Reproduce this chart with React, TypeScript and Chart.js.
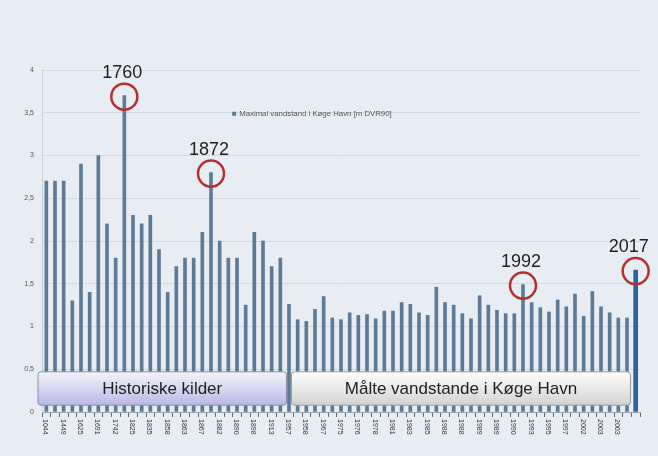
import React, { useEffect, useRef } from "react";
import { Chart, registerables } from "chart.js";

Chart.register(...registerables);

const categories = [
  "1044", "1300", "1449", "1532", "1625", "1634", "1691", "1718", "1742", "1760",
  "1825", "1829", "1835", "1836", "1858", "1862", "1863", "1864", "1867", "1872",
  "1882", "1883", "1890", "1895", "1898", "1904", "1913", "1921", "1957", "1957",
  "1958", "1962", "1967", "1973", "1975", "1975", "1976", "1977", "1978", "1979",
  "1981", "1982", "1983", "1984", "1985", "1986", "1988", "1988", "1988", "1989",
  "1989", "1989", "1989", "1990", "1990", "1992", "1993", "1994", "1995", "1996",
  "1997", "1999", "2002", "2002", "2003", "2003", "2003", "2006", "2017",
];

const maxLevel = [
  2.7, 2.7, 2.7, 1.3, 2.9, 1.4, 3.0, 2.2, 1.8, 3.7,
  2.3, 2.2, 2.3, 1.9, 1.4, 1.7, 1.8, 1.8, 2.1, 2.8,
  2.0, 1.8, 1.8, 1.25, 2.1, 2.0, 1.7, 1.8, 1.26, 1.08,
  1.06, 1.2, 1.35, 1.1, 1.08, 1.16, 1.13, 1.14, 1.09, 1.18,
  1.18, 1.28, 1.26, 1.16, 1.13, 1.46, 1.28, 1.25, 1.15, 1.09,
  1.36, 1.25, 1.19, 1.15, 1.15, 1.49, 1.28, 1.22, 1.17, 1.31,
  1.23, 1.38, 1.12, 1.41, 1.23, 1.16, 1.1, 1.1, 1.66,
];

const yTickLabels = ["0", "0,5", "1", "1,5", "2", "2,5", "3", "3,5", "4"];
const highlightYears = ["1760", "1872", "1992", "2017"];
const legendLabel = "Maximal vandstand i Køge Havn [m DVR90]";
const periodLabels = ["Historiske kilder", "Målte vandstande i Køge Havn"];
const firstMeasuredIndex = 28; // the 1957 bar separates the two periods

const BAR_COLOR = "#5d7a96";
const LAST_COLOR = "#2c6597";
const BG = "#e8edf3";

export default function App() {
  const ref = useRef<HTMLCanvasElement>(null);

  useEffect(() => {
    document.body.style.margin = "0";
    document.body.style.background = BG;
    const canvas = ref.current;
    if (!canvas) return;
    const lastIndex = categories.length - 1;
    const mainData = maxLevel.map((v, i) => (i === lastIndex ? null : v));
    const lastData = maxLevel.map((v, i) => (i === lastIndex ? v : null));

    const overlay = {
      id: "overlay",
      beforeDraw(chart: any) {
        const ctx = chart.ctx;
        ctx.save();
        ctx.fillStyle = BG;
        ctx.fillRect(0, 0, chart.width, chart.height);
        ctx.restore();
      },
      afterDatasetsDraw(chart: any) {
        const ctx = chart.ctx;
        const xs = chart.scales.x;
        const ys = chart.scales.y;
        const area = chart.chartArea;

        // period boxes
        const top = ys.getPixelForValue(0.47);
        const bot = ys.getPixelForValue(0.08);
        const divX = xs.getPixelForValue(firstMeasuredIndex);
        const boxes = [
          { l: area.left - 4, r: divX - 2.5, c1: "#f4f4fc", c2: "#b9b9e4", stroke: "#8c8cab", label: periodLabels[0] },
          { l: divX + 2.5, r: xs.getPixelForValue(lastIndex - 1) + 3.5, c1: "#ffffff", c2: "#d2d2d2", stroke: "#9a9a9a", label: periodLabels[1] },
        ];
        boxes.forEach((b) => {
          ctx.save();
          const g = ctx.createLinearGradient(0, top, 0, bot);
          g.addColorStop(0, b.c1);
          g.addColorStop(1, b.c2);
          ctx.fillStyle = g;
          ctx.strokeStyle = b.stroke;
          ctx.lineWidth = 1;
          ctx.beginPath();
          if ((ctx as any).roundRect) (ctx as any).roundRect(b.l, top, b.r - b.l, bot - top, 3);
          else ctx.rect(b.l, top, b.r - b.l, bot - top);
          ctx.fill();
          ctx.stroke();
          ctx.fillStyle = "#222";
          ctx.font = "17px 'Liberation Sans', Arial, sans-serif";
          ctx.textAlign = "center";
          ctx.textBaseline = "middle";
          ctx.fillText(b.label, (b.l + b.r) / 2, (top + bot) / 2 + 1);
          ctx.restore();
        });

        // x labels rotated (reading top to bottom)
        ctx.save();
        ctx.fillStyle = "#333";
        ctx.font = "7px 'Liberation Sans Narrow', 'Liberation Sans', sans-serif";
        ctx.textAlign = "left";
        ctx.textBaseline = "middle";
        categories.forEach((c, i) => {
          if (i % 2 !== 0 || i === lastIndex) return;
          const px = xs.getPixelForValue(i);
          ctx.save();
          ctx.translate(px - 1, area.bottom + 7);
          ctx.rotate(Math.PI / 2);
          ctx.fillText(c, 0, 0);
          ctx.restore();
        });
        ctx.restore();

        // legend
        ctx.save();
        const lx = area.left + (area.right - area.left) * 0.318;
        const ly = ys.getPixelForValue(3.5) + 1;
        ctx.fillStyle = BAR_COLOR;
        ctx.fillRect(lx, ly - 2, 4, 4);
        ctx.fillStyle = "#555";
        ctx.font = "7.8px 'Liberation Sans', sans-serif";
        ctx.textAlign = "left";
        ctx.textBaseline = "middle";
        ctx.fillText(legendLabel, lx + 7, ly);
        ctx.restore();

        // highlighted years
        highlightYears.forEach((yr) => {
          const i = categories.indexOf(yr);
          if (i < 0) return;
          const cx = xs.getPixelForValue(i);
          const cy = ys.getPixelForValue(maxLevel[i]);
          ctx.save();
          ctx.strokeStyle = "#b3302f";
          ctx.lineWidth = 2.5;
          ctx.beginPath();
          ctx.arc(cx, cy + 1, 13, 0, Math.PI * 2);
          ctx.stroke();
          ctx.fillStyle = "#222";
          ctx.font = "18px 'Liberation Sans', Arial, sans-serif";
          ctx.textAlign = "center";
          ctx.textBaseline = "bottom";
          const dx = i === lastIndex ? -7 : -2;
          ctx.fillText(yr, cx + dx, cy - 14);
          ctx.restore();
        });
      },
    };

    const chart = new Chart(canvas, {
      type: "bar",
      data: {
        labels: categories,
        datasets: [
          {
            label: legendLabel,
            data: mainData,
            backgroundColor: BAR_COLOR,
            barThickness: 3,
            grouped: false,
          } as any,
          {
            label: legendLabel,
            data: lastData,
            backgroundColor: LAST_COLOR,
            barThickness: 4,
            grouped: false,
          } as any,
        ],
      },
      options: {
        responsive: false,
        animation: false,
        layout: { padding: { top: 70, right: 18, left: 0, bottom: 0 } },
        plugins: { legend: { display: false }, tooltip: { enabled: false } },
        scales: {
          x: {
            ticks: { display: false },
            grid: { display: true, drawOnChartArea: false, tickLength: 5, color: "#666" },
            border: { display: true, color: "#9aa4ae" },
            afterFit: (s: any) => {
              s.height = 44;
            },
          },
          y: {
            min: 0,
            max: 4,
            ticks: {
              stepSize: 0.5,
              padding: 8,
              color: "#555",
              font: { size: 7, family: "'Liberation Sans', sans-serif" },
              callback: (v: any) => yTickLabels[Math.round(Number(v) / 0.5)],
            },
            grid: { color: "rgba(200,208,216,0.7)", drawTicks: false },
            border: { display: true, color: "#c8ced6" },
            afterFit: (s: any) => {
              s.width = 42;
            },
          },
        },
      },
      plugins: [overlay],
    });
    return () => chart.destroy();
  }, []);

  return <canvas ref={ref} width={658} height={456} style={{ display: "block" }} />;
}
